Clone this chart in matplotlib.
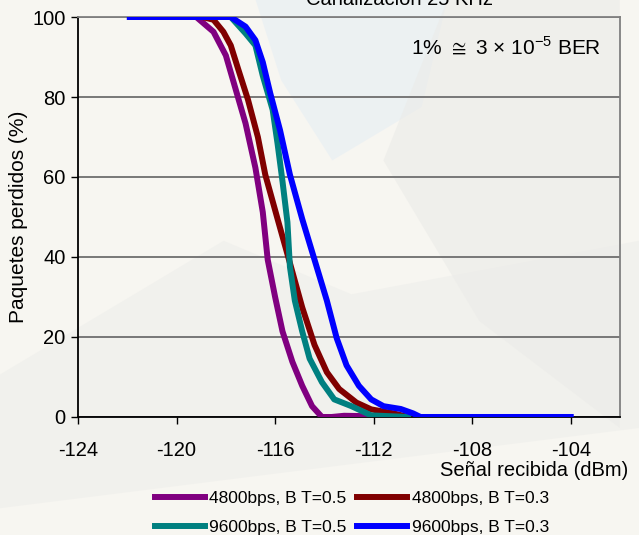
#!/usr/bin/env python3

import numpy as np
import matplotlib.pyplot as plt
from matplotlib.patches import Polygon

plt.rcParams['font.family'] = ['Liberation Sans', 'DejaVu Sans']
plt.rcParams['axes.unicode_minus'] = False
plt.rcParams['mathtext.fontset'] = 'custom'
plt.rcParams['mathtext.rm'] = 'Liberation Sans'

# datos
x_4800_05 = [-119.2, -118.5, -118.0, -117.6, -117.2, -116.8, -116.5, -116.3, -116.0,
             -115.7, -115.3, -114.9, -114.5, -114.1, -113.7, -113.2, -112.2]
y_4800_05 = [100, 96.3, 90.4, 81.9, 73.4, 62.3, 51.2, 39.3, 30.0,
             21.4, 13.8, 7.8, 2.7, 0.0, 0.0, 0.3, 0.2]

x_4800_03 = [-118.95, -118.5, -118.1, -117.8, -117.5, -117.1, -116.7, -116.4, -115.9,
             -115.4, -114.9, -114.4, -113.9, -113.4, -112.7, -112.1, -111.2, -110.6]
y_4800_03 = [100, 99.3, 96.3, 92.9, 87.0, 79.3, 70.0, 60.6, 49.5,
             38.5, 27.4, 18.0, 11.2, 7.0, 3.6, 1.9, 0.9, 0.0]

x_9600_05 = [-117.8, -117.2, -116.8, -116.5, -116.1, -115.9, -115.7, -115.5, -115.4,
             -115.2, -114.9, -114.6, -114.1, -113.6, -112.9, -112.1, -110.6]
y_9600_05 = [100, 95.9, 92.9, 85.3, 76.8, 68.3, 58.9, 48.7, 37.6,
             29.1, 21.4, 14.6, 8.7, 4.4, 2.7, 0.4, 0.0]

x_9600_03 = [-121.9, -117.8, -117.2, -116.8, -116.5, -116.2, -115.8, -115.4, -114.9,
             -114.4, -113.9, -113.5, -113.1, -112.6, -112.1, -111.6, -110.9, -110.4,
             -110.1, -104.0]
y_9600_03 = [100, 100, 97.6, 94.2, 88.7, 81.0, 71.7, 60.6, 49.5,
             39.3, 29.1, 19.7, 12.9, 7.8, 4.4, 2.7, 2.0, 0.9,
             0.0, 0.0]

x_ticks = [-124, -120, -116, -112, -108, -104]
y_ticks = [0, 20, 40, 60, 80, 100]

fig = plt.figure(figsize=(6.39, 5.35), dpi=100, facecolor='#f7f6f1')

# fondo tipo marca de agua (suave)
fig.patches.append(Polygon([[0.40, 1.0], [0.70, 1.0], [0.66, 0.80], [0.52, 0.70], [0.44, 0.85]],
                           closed=True, transform=fig.transFigure, facecolor='#e6eef4',
                           edgecolor='none', alpha=0.6, zorder=-2))
fig.patches.append(Polygon([[0.0, 0.30], [0.35, 0.55], [0.55, 0.45], [1.0, 0.55], [1.0, 0.2], [0.0, 0.05]],
                           closed=True, transform=fig.transFigure, facecolor='#eeeeeb',
                           edgecolor='none', alpha=0.6, zorder=-2))
fig.patches.append(Polygon([[0.7, 1.0], [0.97, 1.0], [0.97, 0.2], [0.75, 0.4], [0.6, 0.7]],
                           closed=True, transform=fig.transFigure, facecolor='#ebebe8',
                           edgecolor='none', alpha=0.6, zorder=-2))

ax = fig.add_axes([0.1221, 0.2206, 0.8482, 0.7476])
ax.patch.set_alpha(0)

lw = 4.3
l1, = ax.plot(x_4800_05, y_4800_05, color='#800080', lw=lw, label='4800bps, B T=0.5', zorder=3)
l2, = ax.plot(x_4800_03, y_4800_03, color='#800000', lw=lw, label='4800bps, B T=0.3', zorder=3)
l3, = ax.plot(x_9600_05, y_9600_05, color='#008080', lw=lw, label='9600bps, B T=0.5', zorder=3)
l4, = ax.plot(x_9600_03, y_9600_03, color='#0000ff', lw=lw, label='9600bps, B T=0.3', zorder=4)

ax.set_xlim(-124, -102)
ax.set_ylim(0, 100)
ax.set_xticks(x_ticks)
ax.set_yticks(y_ticks)
ax.tick_params(labelsize=14.5, direction='out', length=5, width=1, colors='black', pad=12)
ax.tick_params(axis='y', pad=4)
ax.grid(axis='y', color='#6e6e6e', lw=1.3)
ax.set_axisbelow(True)
ax.spines['left'].set_color('black')
ax.spines['bottom'].set_color('black')
ax.spines['top'].set_color('#808080')
ax.spines['right'].set_color('#808080')
for s in ax.spines.values():
    s.set_linewidth(1.3)

ax.set_ylabel('Paquetes perdidos (%)', fontsize=15, labelpad=3)
fig.text(628 / 639, 1 - 470 / 535, 'Señal recibida (dBm)', fontsize=14.5,
         ha='right', va='center')

ax.text(0.965, 0.925, r'1% $\cong$ 3 $\times$ 10$^{\mathregular{-5}}$ BER', transform=ax.transAxes,
        fontsize=15, ha='right', va='center')

fig.text(399 / 639, 1 - 5 / 535, 'Canalización 25 KHz', fontsize=14.5,
         ha='center', va='baseline')

# orden por filas: 4800 arriba, 9600 abajo
ax.legend([l1, l3, l2, l4], [l.get_label() for l in [l1, l3, l2, l4]],
          loc='upper center', bbox_to_anchor=(0.505, -0.168), ncol=2, frameon=False,
          fontsize=12.5, handlelength=2.9, handletextpad=0.25, columnspacing=0.6,
          labelspacing=0.78, borderaxespad=0)

fig.savefig('out.png', dpi=100, facecolor=fig.get_facecolor())
